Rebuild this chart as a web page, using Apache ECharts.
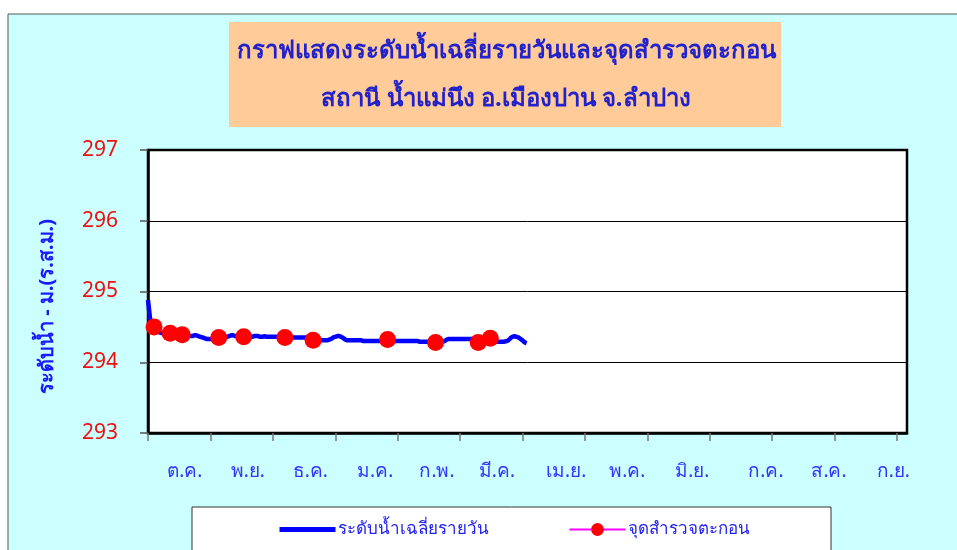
<!DOCTYPE html>
<html>
<head>
<meta charset="utf-8">
<script src="https://cdn.jsdelivr.net/npm/echarts@6/dist/echarts.min.js"></script>
<style>
html,body{margin:0;padding:0;background:#ffffff;}
#chart{width:957px;height:550px;}
</style>
</head>
<body>
<div id="chart"></div>
<script>
// ---- data ----
const titleLine1 = 'กราฟแสดงระดับน้ำเฉลี่ยรายวันและจุดสำรวจตะกอน';
const titleLine2 = 'สถานี น้ำแม่นึง อ.เมืองปาน จ.ลำปาง';
const yAxisName = 'ระดับน้ำ - ม.(ร.ส.ม.)';
const monthLabels = ['ต.ค.','พ.ย.','ธ.ค.','ม.ค.','ก.พ.','มี.ค.','เม.ย.','พ.ค.','มิ.ย.','ก.ค.','ส.ค.','ก.ย.'];
const seriesNames = ['ระดับน้ำเฉลี่ยรายวัน','จุดสำรวจตะกอน'];
const dailyStart = '2022-10-01';
const dailyOct = [294.88,294.62,294.52,294.48,294.45,294.43,294.42,294.41,294.40,294.40,294.39,294.39,294.38,294.38,294.37,294.37,294.37,294.36,294.36,294.37,294.38,294.37,294.37,294.38,294.38,294.37,294.36,294.35,294.34,294.33,294.33];
const dailyNov = [294.33,294.33,294.33,294.33,294.34,294.34,294.35,294.35,294.36,294.37,294.38,294.38,294.37,294.37,294.37,294.37,294.37,294.37,294.37,294.37,294.36,294.37,294.37,294.37,294.36,294.36,294.37,294.36,294.36,294.36];
const dailyDec = [294.36,294.36,294.36,294.35,294.35,294.35,294.35,294.35,294.35,294.35,294.35,294.35,294.35,294.35,294.35,294.35,294.35,294.35,294.34,294.34,294.34,294.34,294.33,294.32,294.31,294.31,294.31,294.31,294.32,294.33,294.35];
const dailyJan = [294.36,294.37,294.37,294.36,294.34,294.32,294.31,294.31,294.31,294.31,294.31,294.31,294.31,294.31,294.30,294.30,294.30,294.30,294.30,294.30,294.30,294.30,294.30,294.30,294.30,294.30,294.30,294.30,294.30,294.30,294.30];
const dailyFeb = [294.30,294.30,294.30,294.30,294.30,294.30,294.30,294.30,294.30,294.30,294.29,294.29,294.29,294.29,294.29,294.29,294.29,294.29,294.29,294.29,294.29,294.30,294.32,294.33,294.33,294.33,294.33,294.33];
const dailyMar = [294.33,294.33,294.33,294.33,294.33,294.33,294.33,294.33,294.33,294.33,294.33,294.33,294.33,294.32,294.31,294.30,294.29,294.29,294.29,294.29,294.29,294.29,294.29,294.30,294.31,294.34,294.36,294.37,294.36,294.35,294.33];
const dailyApr = [294.31,294.28,294.27];
const surveyDates = ['2022-10-04','2022-10-12','2022-10-18','2022-11-05','2022-11-17','2022-12-07','2022-12-21','2023-01-27','2023-02-18','2023-03-10','2023-03-16'];
const surveyValues = [294.50,294.41,294.39,294.35,294.36,294.35,294.31,294.32,294.28,294.28,294.34];
const yTicks = {min: 293, max: 297, step: 1};

// ---- helpers: date -> position in months from start of water year ----
function monthPos(y, m, d) { // m 1-12
  const idx = (y - 2022) * 12 + (m - 10);
  const dim = new Date(Date.UTC(y, m, 0)).getUTCDate();
  return idx + (d - 1) / dim;
}
function posFromStr(s) { const p = s.split('-').map(Number); return monthPos(p[0], p[1], p[2]); }

const dailyValues = [].concat(dailyOct, dailyNov, dailyDec, dailyJan, dailyFeb, dailyMar, dailyApr);
const startParts = dailyStart.split('-').map(Number);
const dailyData = dailyValues.map(function (v, i) {
  const dt = new Date(Date.UTC(startParts[0], startParts[1] - 1, startParts[2] + i));
  return [monthPos(dt.getUTCFullYear(), dt.getUTCMonth() + 1, dt.getUTCDate()), v];
});
const surveyData = surveyDates.map(function (s, i) { return [posFromStr(s), surveyValues[i]]; });

const FONT = 'Tahoma, "Noto Sans", "DejaVu Sans", sans-serif';
const chart = echarts.init(document.getElementById('chart'), null, {renderer: 'canvas'});
const labelPositions = [0.59, 1.60, 2.60, 3.64, 4.63, 5.59, 6.70, 7.68, 8.72, 9.90, 10.91, 11.94];

chart.setOption({
  backgroundColor: '#ffffff',
  animation: false,
  graphic: [
    {type: 'rect', z: -10, shape: {x: 8, y: 14, width: 1000, height: 600}, style: {fill: '#CCFFFF', stroke: '#555555', lineWidth: 1}},
    {type: 'rect', z: -5, shape: {x: 229, y: 22, width: 552, height: 105}, style: {fill: '#FFCC99'}},
    {type: 'rect', z: -5, shape: {x: 192, y: 507, width: 639, height: 80}, style: {fill: '#ffffff', stroke: '#333333', lineWidth: 1}}
  ],
  title: {
    text: titleLine1 + '\n' + titleLine2,
    left: 501, top: 22, textAlign: 'center',
    textStyle: {fontFamily: FONT, fontSize: 24, fontWeight: 'bold', color: '#2222CC', lineHeight: 48, align: 'center'}
  },
  legend: {
    left: 277, top: 521, padding: 0, itemGap: 80, itemWidth: 56, itemHeight: 16,
    textStyle: {fontFamily: FONT, fontSize: 17, color: '#2222EE', padding: [0,0,0,-3]},
    data: [
      {name: seriesNames[0], itemStyle: {opacity: 0}, lineStyle: {color: '#0000FF', width: 5, opacity: 1}},
      {name: seriesNames[1], lineStyle: {color: '#FF00FF', width: 2, opacity: 1}}
    ]
  },
  grid: {left: 148, top: 150, width: 759, height: 283, show: true, backgroundColor: '#ffffff', borderColor: '#000000', borderWidth: 2.5},
  xAxis: {
    type: 'value', min: 0, max: 12.16,
    axisLine: {show: true, lineStyle: {color: '#000000', width: 2.5}},
    axisTick: {show: true, customValues: [0,1,2,3,4,5,6,7,8,9,10,11,12], length: 8, lineStyle: {color: '#777777', width: 1.5}},
    axisLabel: {
      customValues: labelPositions, margin: 29,
      fontFamily: FONT, fontSize: 19, color: '#3333FF',
      formatter: function (v) { return monthLabels[Math.floor(v)]; }
    },
    splitLine: {show: false}
  },
  yAxis: {
    type: 'value', min: yTicks.min, max: yTicks.max, interval: yTicks.step,
    name: yAxisName, nameLocation: 'middle', nameRotate: 90, nameGap: 91,
    nameTextStyle: {fontFamily: FONT, fontSize: 20, fontWeight: 'bold', color: '#1A1AFF', padding: [0, 30, 0, 0]},
    axisLine: {show: true, lineStyle: {color: '#000000', width: 2.5}},
    axisTick: {show: true, length: 8, lineStyle: {color: '#555555', width: 1.5}},
    axisLabel: {margin: 30, fontFamily: FONT, fontSize: 21, color: '#EE1111'},
    splitLine: {show: true, lineStyle: {color: '#000000', width: 1}}
  },
  series: [
    {
      name: seriesNames[0], type: 'line', data: dailyData, symbol: 'none',
      lineStyle: {color: '#0000FF', width: 4.5}, itemStyle: {color: '#0000FF'}, z: 2
    },
    {
      name: seriesNames[1], type: 'line', data: surveyData, symbol: 'circle', symbolSize: 17,
      itemStyle: {color: '#FF0000'}, lineStyle: {color: '#FF00FF', width: 2, opacity: 0}, z: 3
    }
  ]
});
</script>
</body>
</html>
